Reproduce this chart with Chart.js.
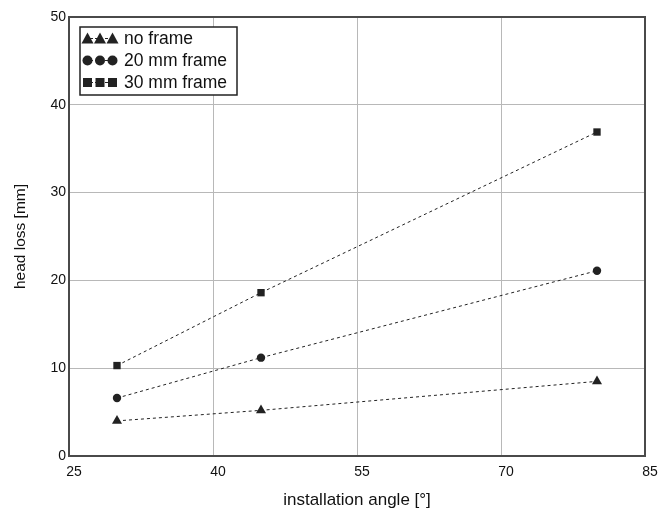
<!DOCTYPE html>
<html>
<head>
<meta charset="utf-8">
<script src="https://cdn.jsdelivr.net/npm/chart.js@4/dist/chart.umd.min.js"></script>
<style>
  html, body { margin: 0; padding: 0; background: #fff; }
  #wrap { width: 658px; height: 513px; }
</style>
</head>
<body>
<div id="wrap"><canvas id="myChart" width="658" height="513"></canvas></div>
<script>
// datos
const angulos = [30, 45, 80];
const sinMarco = [4.0, 5.2, 8.5];
const marco20 = [6.6, 11.2, 21.1];
const marco30 = [10.3, 18.6, 36.9];
const etiquetas = ["no frame", "20 mm frame", "30 mm frame"];
const ticksX = [25, 40, 55, 70, 85];
const ticksY = [0, 10, 20, 30, 40, 50];

const fuente = "'Liberation Sans', Arial, sans-serif";
const estilos = ["triangle", "circle", "rect"];
const radios = [5.8, 4.2, 5.2];

const puntos = (ys) => ys.map((y, i) => ({ x: angulos[i], y: y }));

// imagen de la leyenda: tres marcadores con linea punteada
const iconoLeyenda = (estilo) => {
  const c = document.createElement("canvas");
  c.width = 38;
  c.height = 14;
  const ctx = c.getContext("2d");
  ctx.strokeStyle = "#222";
  ctx.lineWidth = 1;
  ctx.setLineDash([3, 2]);
  ctx.beginPath();
  ctx.moveTo(4, 7.5);
  ctx.lineTo(34, 7.5);
  ctx.stroke();
  ctx.fillStyle = "#222";
  [6.5, 19, 31.5].forEach((cx) => {
    ctx.beginPath();
    if (estilo === "triangle") {
      ctx.moveTo(cx, 1.5);
      ctx.lineTo(cx + 6, 12.5);
      ctx.lineTo(cx - 6, 12.5);
      ctx.closePath();
    } else if (estilo === "circle") {
      ctx.arc(cx, 7.5, 5, 0, Math.PI * 2);
    } else {
      ctx.rect(cx - 4.5, 3, 9, 9);
    }
    ctx.fill();
  });
  return c;
};

const series = [sinMarco, marco20, marco30];
const datasets = series.map((s, i) => ({
  label: etiquetas[i],
  data: puntos(s),
  borderColor: "#222",
  borderWidth: 1,
  borderDash: [3, 3],
  backgroundColor: "#222",
  pointBackgroundColor: "#222",
  pointBorderWidth: 0,
  pointStyle: estilos[i],
  pointRadius: radios[i],
  pointHoverRadius: radios[i],
  tension: 0,
}));

// marco del area del grafico
const bordePlugin = {
  id: "borde",
  afterDraw(chart) {
    const { ctx, chartArea: a } = chart;
    ctx.save();
    ctx.strokeStyle = "#4a4a4a";
    ctx.lineWidth = 2;
    ctx.strokeRect(a.left, a.top, a.right - a.left, a.bottom - a.top);
    ctx.restore();
  },
};

// leyenda dentro del grafico con recuadro
const leyendaPlugin = {
  id: "leyenda",
  afterDraw(chart) {
    const ctx = chart.ctx;
    ctx.save();
    ctx.fillStyle = "#fff";
    ctx.fillRect(80, 27, 157, 68);
    ctx.strokeStyle = "#222";
    ctx.lineWidth = 1.5;
    ctx.strokeRect(80, 27, 157, 68);
    ctx.font = "17.5px " + fuente;
    ctx.textBaseline = "middle";
    ctx.fillStyle = "#111";
    chart.data.datasets.forEach((ds, i) => {
      const y = 38 + i * 22;
      const img = iconoLeyenda(ds.pointStyle);
      ctx.drawImage(img, 81, y - 7);
      ctx.fillText(ds.label, 124, y + 1);
    });
    ctx.restore();
  },
};

const config = {
  type: "line",
  data: { datasets: datasets },
  options: {
    responsive: false,
    animation: false,
    layout: { padding: { left: 0, top: 17, right: 13, bottom: 0 } },
    plugins: {
      legend: { display: false },
      tooltip: { enabled: false },
    },
    scales: {
      x: {
        type: "linear",
        min: 25,
        max: 85,
        afterBuildTicks: (scale) => {
          scale.ticks = ticksX.map((v) => ({ value: v }));
        },
        afterFit: (scale) => {
          scale.height = 57;
          scale.paddingLeft = 0;
          scale.paddingRight = 0;
        },
        grid: { color: "#b8b8b8", lineWidth: 1, drawTicks: false },
        border: { display: false },
        ticks: {
          padding: 8,
          labelOffset: 5,
          color: "#111",
          font: { family: fuente, size: 14 },
        },
        title: {
          display: true,
          text: "installation angle [°]",
          color: "#111",
          font: { family: fuente, size: 17 },
          padding: { top: 0, bottom: 2 },
        },
      },
      y: {
        min: 0,
        max: 50,
        afterBuildTicks: (scale) => {
          scale.ticks = ticksY.map((v) => ({ value: v }));
        },
        afterFit: (scale) => {
          scale.width = 69;
        },
        grid: { color: "#b8b8b8", lineWidth: 1, drawTicks: false },
        border: { display: false },
        ticks: {
          padding: 3,
          color: "#111",
          font: { family: fuente, size: 14 },
        },
        title: {
          display: true,
          text: "head loss [mm]",
          color: "#111",
          font: { family: fuente, size: 15.5 },
          padding: { top: 11, bottom: 0 },
        },
      },
    },
  },
  plugins: [bordePlugin, leyendaPlugin],
};

const myChartElement = document.getElementById("myChart");
var myChart = new Chart(myChartElement, config);
</script>
</body>
</html>
